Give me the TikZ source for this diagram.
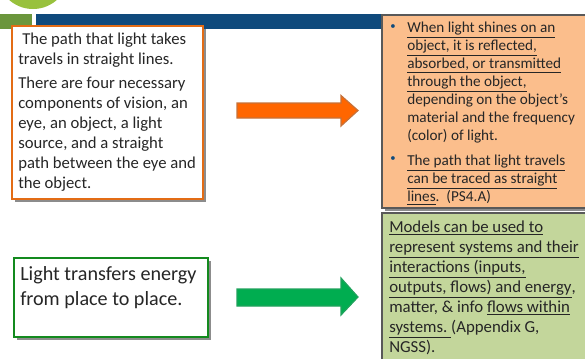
\documentclass[tikz,border=0pt]{standalone}
\usepackage{fontspec}
\setmainfont{Carlito}
\usetikzlibrary{shadows}
\definecolor{barblue}{HTML}{0F4A7C}
\definecolor{bargreen}{HTML}{6B963C}
\definecolor{leafgreen}{HTML}{98C13D}
\definecolor{boxorange}{HTML}{E36C15}
\definecolor{boxgreen}{HTML}{138A1E}
\definecolor{fillpeach}{HTML}{FBBE8C}
\definecolor{fillolive}{HTML}{C3D69B}
\definecolor{arroworange}{HTML}{FF6600}
\definecolor{arrowgreen}{HTML}{00AD50}
\definecolor{textgray}{HTML}{262626}
\tikzset{
  boxshadow/.style={drop shadow={shadow xshift=2.2pt,shadow yshift=-2.2pt,fill=black,opacity=.45}},
  textbox/.style={draw,line width=1.6pt,fill=white,boxshadow},
  panel/.style={draw=black!65,line width=.8pt,boxshadow},
  body/.style={anchor=north west,inner sep=0pt,align=left,text=textgray},
  bigarrow/.style={line width=.9pt,line join=miter}
}
\begin{document}
\begin{tikzpicture}[x=0.75pt,y=-0.75pt]
\clip (0,0) rectangle (585,358);

\def\xa{237}
\def\xb{341}
\def\xc{358}

% top banner
\fill[leafgreen] (33,-27) circle (36);
\fill[bargreen] (0,14) rectangle (32,29);
\fill[barblue] (36,14) rectangle (385,29);

% left boxes
\filldraw[textbox,draw=boxorange] (12,26) rectangle (203,199);
\filldraw[textbox,draw=boxgreen] (14,258) rectangle (208,337);

% right panels
\filldraw[panel,fill=fillpeach] (382,15) rectangle (600,208);
\filldraw[panel,fill=fillolive] (382,213) rectangle (600,370);

\node[body,font=\fontsize{12.5}{15}\selectfont] (path) at (18,33)
  {\hspace{3pt}The path that light takes\\travels in straight lines.};
\node[body,font=\fontsize{12.5}{15}\selectfont] (vision) at (18,77)
  {There are four necessary\\components of vision, an\\eye, an object, a light\\source, and a straight\\path between the eye and\\the object.};
\node[body,font=\fontsize{15.1}{18.6}\selectfont] (energy) at (20,266)
  {Light transfers energy\\from place to place.};

% arrows
\filldraw[bigarrow,draw=arroworange!55!gray,fill=arroworange]
  (\xa,103) -- (\xb,103) -- (\xb,95.5) -- (\xc,110.5) -- (\xb,126) -- (\xb,118) -- (\xa,118) -- cycle;
\filldraw[bigarrow,draw=arrowgreen!75!gray,fill=arrowgreen]
  (\xa,289) -- (\xb,289) -- (\xb,278) -- (\xc,297) -- (\xb,315) -- (\xb,306) -- (\xa,306) -- cycle;

% peach panel text
\node[body,font=\fontsize{11.4}{13.5}\selectfont] (light) at (407,22)
  {\underline{When light shines on an}\\\underline{object, it is reflected,}\\\underline{absorbed, or transmitted}\\\underline{through the object,}\\depending on the object’s\\material and the frequency\\(color) of light.};
\node[body,font=\fontsize{11.4}{13.5}\selectfont] (traced) at (407,155)
  {\underline{The path that light travels}\\\underline{can be traced as straight}\\\underline{lines}.~~(PS4.A)};
\node[body,text=barblue,font=\fontsize{8}{10}\selectfont] (bulleta) at (390,24) {•};
\node[body,text=barblue,font=\fontsize{8}{10}\selectfont] (bulletb) at (390,156) {•};

% olive panel text
\node[body,font=\fontsize{12.6}{15}\selectfont] (models) at (389,220.5)
  {\underline{Models can be used to}\\\underline{represent systems and their}\\\underline{interactions (inputs,}\\\underline{outputs, flows) and energy},\\matter, \& info \underline{flows within}\\\underline{systems.~}(Appendix G,\\NGSS).};
\end{tikzpicture}
\end{document}
